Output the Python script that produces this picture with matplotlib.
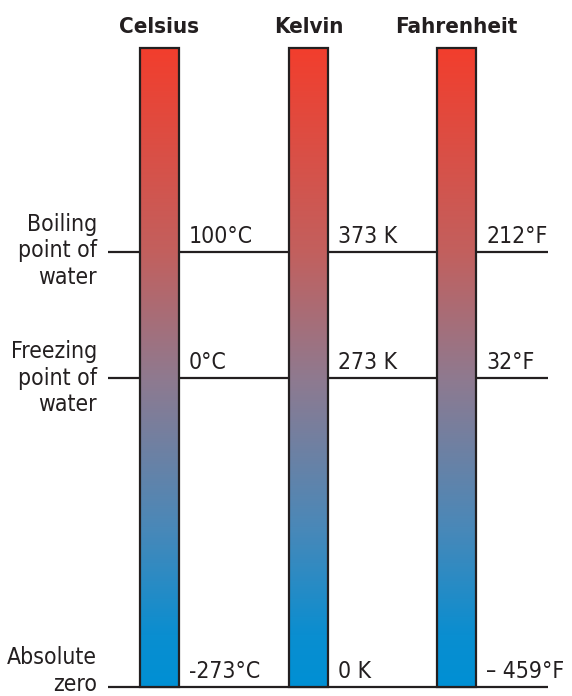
import numpy as np
import matplotlib.pyplot as plt
from matplotlib.colors import LinearSegmentedColormap
from matplotlib.patches import Rectangle

scales = ["Celsius", "Kelvin", "Fahrenheit"]
points = ["Boiling\npoint of\nwater", "Freezing\npoint of\nwater", "Absolute\nzero"]
celsius = ["100°C", "0°C", "-273°C"]
kelvin = ["373 K", "273 K", "0 K"]
fahrenheit = ["212°F", "32°F", "\u2013 459°F"]
labels = [celsius, kelvin, fahrenheit]

# layout in pixels
bar_x = [140, 289, 437]
bar_w = 39
bar_top = 48
bar_bot = 687
level_y = [252, 378, 687]
text_dy = [-1, 0, -16]

plt.rcParams['font.family'] = ['DejaVu Sans']
plt.rcParams['font.stretch'] = 'condensed'

cmap = LinearSegmentedColormap.from_list('temp', [
    (0.0, '#F23E2D'), (0.32, '#C2605E'), (0.52, '#8E7A90'),
    (0.75, '#4A88B8'), (0.92, '#0A8ED0'), (1.0, '#0090D4')])

fig = plt.figure(figsize=(5.72, 6.96), dpi=100)
ax = fig.add_axes([0, 0, 1, 1])
ax.set_xlim(0, 572)
ax.set_ylim(696, 0)
ax.axis('off')

# horizontal reference lines
for y in level_y:
    ax.plot([108, 548], [y, y], color='#231f20', lw=1.6, zorder=1, solid_capstyle='butt')

grad = np.linspace(0, 1, 256).reshape(-1, 1)
for i, name in enumerate(scales):
    x0 = bar_x[i]
    ax.imshow(grad, cmap=cmap, aspect='auto', extent=[x0, x0 + bar_w, bar_bot, bar_top],
              zorder=2, interpolation='bicubic')
    ax.add_patch(Rectangle((x0, bar_top), bar_w, bar_bot - bar_top, fill=False,
                           edgecolor='#231f20', lw=1.6, zorder=3))
    ax.text(x0 + bar_w / 2, 33, name, ha='center', va='baseline', fontsize=16,
            fontweight='bold', color='#231f20')
    for j, y in enumerate(level_y):
        ax.text(x0 + bar_w + 10, y - 9, labels[i][j], ha='left', va='baseline',
                fontsize=16.5, color='#231f20')

for j, y in enumerate(level_y):
    ax.text(97, y + text_dy[j], points[j], ha='right', va='center', fontsize=16.5,
            color='#231f20', linespacing=1.2)

fig.savefig('out.png', dpi=100)
